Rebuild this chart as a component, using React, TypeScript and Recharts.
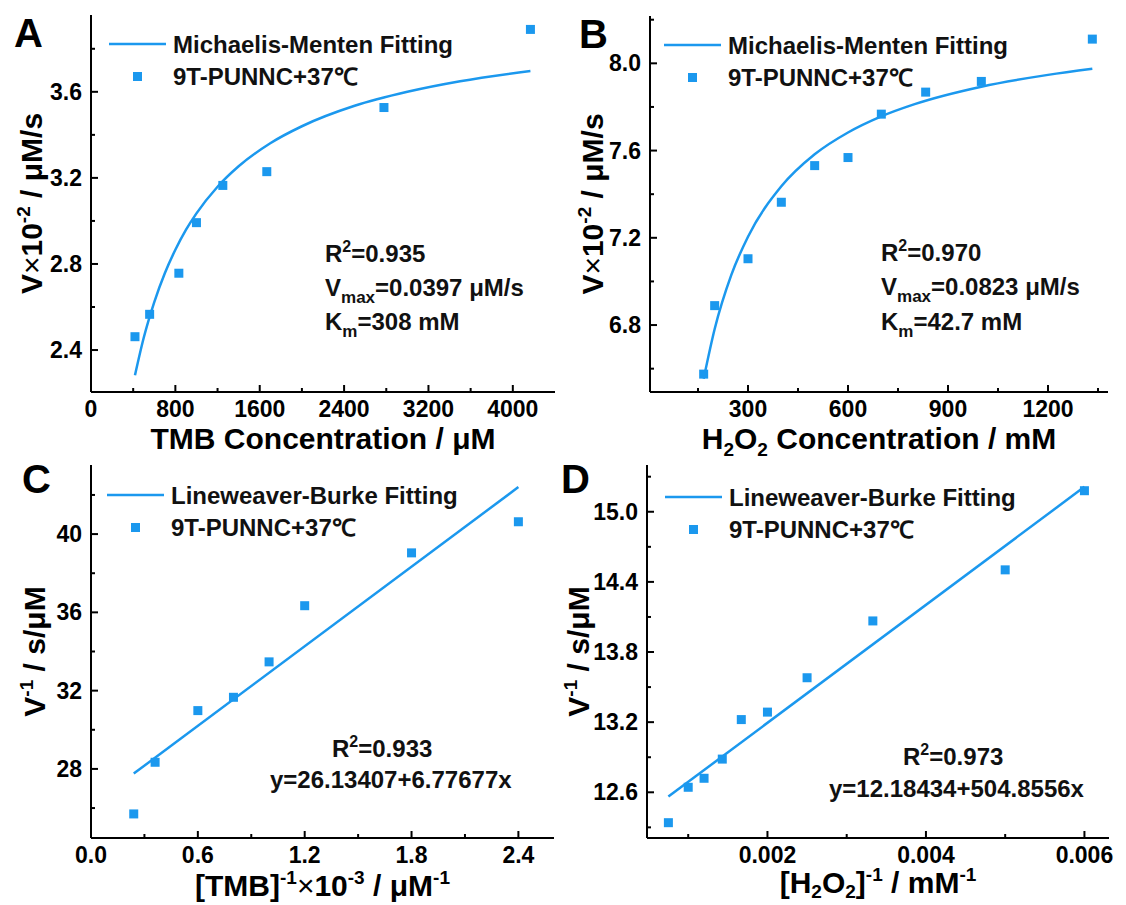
import React from 'react';
import { ComposedChart, Line, Scatter, XAxis, YAxis, Legend } from 'recharts';

const BLUE = '#1b98ee';
const FONT = '"Liberation Sans", Arial, Helvetica, sans-serif';

// ---------- Panel A : TMB Michaelis-Menten ----------
const tmbConc = [417, 556, 833, 1000, 1250, 1667, 2778, 4167];
const tmbRate = [2.462, 2.566, 2.757, 2.992, 3.165, 3.229, 3.527, 3.89];
const tmbFitConc = [417, 500, 600, 700, 800, 900, 1000, 1200, 1400, 1700, 2000, 2500, 3000, 3500, 4167];
const tmbFitRate = [2.283, 2.457, 2.623, 2.757, 2.866, 2.958, 3.035, 3.159, 3.254, 3.361, 3.44, 3.535, 3.6, 3.649, 3.697];
const aXMajor = [0, 800, 1600, 2400, 3200, 4000];
const aXMinor = [400, 1200, 2000, 2800, 3600];
const aYMajor = [2.4, 2.8, 3.2, 3.6];
const aYMinor = [2.6, 3.0, 3.4, 3.8];

// ---------- Panel B : H2O2 Michaelis-Menten ----------
const h2o2Conc = [167, 200, 300, 400, 500, 600, 700, 833, 1000, 1333];
const h2o2Rate = [6.575, 6.889, 7.104, 7.363, 7.531, 7.568, 7.767, 7.868, 7.917, 8.111];
const h2o2FitConc = [167, 200, 250, 300, 400, 500, 600, 700, 800, 1000, 1200, 1333];
const h2o2FitRate = [6.554, 6.782, 7.03, 7.205, 7.436, 7.583, 7.683, 7.757, 7.813, 7.893, 7.947, 7.975];
const bXMajor = [300, 600, 900, 1200];
const bXMinor = [150, 450, 750, 1050, 1350];
const bYMajor = [6.8, 7.2, 7.6, 8.0];
const bYMinor = [6.6, 7.0, 7.4, 7.8, 8.2];

// ---------- Panel C : TMB Lineweaver-Burk ----------
const invTmb = [0.24, 0.36, 0.6, 0.8, 1.0, 1.2, 1.8, 2.4];
const invTmbRate = [25.7, 28.34, 30.98, 31.66, 33.47, 36.34, 39.04, 40.63];
const invTmbFitX = [0.24, 2.4];
const invTmbFitY = [27.76, 42.4];
const cXMajor = [0, 0.6, 1.2, 1.8, 2.4];
const cXMinor = [0.3, 0.9, 1.5, 2.1];
const cYMajor = [28, 32, 36, 40];
const cYMinor = [26, 30, 34, 38, 42];

// ---------- Panel D : H2O2 Lineweaver-Burk ----------
const invH2o2 = [0.00075, 0.001, 0.0012, 0.00143, 0.00167, 0.002, 0.0025, 0.00333, 0.005, 0.006];
const invH2o2Rate = [12.34, 12.643, 12.72, 12.884, 13.222, 13.286, 13.58, 14.066, 14.503, 15.18];
const invH2o2FitX = [0.00075, 0.006];
const invH2o2FitY = [12.563, 15.213];
const dXMajor = [0.002, 0.004, 0.006];
const dXMinor = [0.001, 0.003, 0.005];
const dYMajor = [12.6, 13.2, 13.8, 14.4, 15.0];
const dYMinor = [12.3, 12.9, 13.5, 14.1, 14.7, 15.3];

const MM_NAME = 'Michaelis-Menten Fitting';
const LB_NAME = 'Lineweaver-Burke Fitting';
const PT_NAME = '9T-PUNNC+37\u2103';

const zip = (xs: number[], ys: number[]) => xs.map((x, i) => ({ x, y: ys[i] }));

const isIn = (arr: number[], v: number) => arr.some((m) => Math.abs(m - v) < 1e-9);

const makeXTick = (majors: number[], dec: number) => (p: any) => {
  const v = p.payload.value;
  const major = isIn(majors, v);
  return (
    <g>
      <line x1={p.x} x2={p.x} y1={p.y} y2={p.y - (major ? 7 : 4)} stroke="#000" strokeWidth={2} />
      {major && (
        <text x={p.x} y={p.y + 25} textAnchor="middle" fontSize={23} fontWeight="bold" fill="#000" fontFamily={FONT}>
          {v.toFixed(dec)}
        </text>
      )}
    </g>
  );
};

const makeYTick = (majors: number[], dec: number) => (p: any) => {
  const v = p.payload.value;
  const major = isIn(majors, v);
  return (
    <g>
      <line x1={p.x} x2={p.x + (major ? 7 : 4)} y1={p.y} y2={p.y} stroke="#000" strokeWidth={2} />
      {major && (
        <text x={p.x - 9} y={p.y + 8} textAnchor="end" fontSize={23} fontWeight="bold" fill="#000" fontFamily={FONT}>
          {v.toFixed(dec)}
        </text>
      )}
    </g>
  );
};

const squareShape = (p: any) => <rect x={p.cx - 4.5} y={p.cy - 4.5} width={9} height={9} fill={BLUE} />;

const XTitle = (p: any) => (
  <text x={p.tx} y={p.ty} textAnchor="middle" fontSize={30} fontWeight="bold" fill="#000" fontFamily={FONT}>
    {p.children2}
  </text>
);
const YTitle = (p: any) => (
  <text
    x={p.tx}
    y={p.ty}
    transform={`rotate(-90, ${p.tx}, ${p.ty})`}
    textAnchor="middle"
    fontSize={30}
    fontWeight="bold"
    fill="#000"
    fontFamily={FONT}
  >
    {p.children2}
  </text>
);

const LegendBox = (p: any) => (
  <svg width={380} height={72} style={{ overflow: 'visible' }}>
    <line x1={0} x2={57} y1={20} y2={20} stroke={BLUE} strokeWidth={2.5} />
    <text x={64} y={29} fontSize={24} fontWeight="bold" fill="#111" fontFamily={FONT}>
      {p.fitName}
    </text>
    <rect x={28.5 - 4.5} y={52.5 - 4.5} width={9} height={9} fill={BLUE} />
    <text x={64} y={61} fontSize={24} fontWeight="bold" fill="#111" fontFamily={FONT}>
      {p.ptName}
    </text>
  </svg>
);

type PanelCfg = {
  left: number;
  top: number;
  width: number;
  height: number;
  plot: { l: number; t: number; r: number; b: number };
  xDomain: [number, number];
  yDomain: [number, number];
  xMajor: number[];
  xMinor: number[];
  yMajor: number[];
  yMinor: number[];
  xDec: number;
  yDec: number;
  fit: { x: number; y: number }[];
  pts: { x: number; y: number }[];
  fitType: 'monotone' | 'linear';
  fitName: string;
  xTitle: React.ReactNode;
  yTitle: React.ReactNode;
  xTitleBase: number;
  yTitleBase: number;
  legend: { x: number; y: number };
};

const Panel = ({ c }: { c: PanelCfg }) => {
  const YW = 60;
  const XH = 40;
  const margin = {
    left: c.plot.l - c.left - YW,
    top: c.plot.t - c.top,
    right: c.left + c.width - c.plot.r,
    bottom: c.top + c.height - c.plot.b - XH,
  };
  const xTicks = [...c.xMajor, ...c.xMinor].sort((a, b) => a - b);
  const yTicks = [...c.yMajor, ...c.yMinor].sort((a, b) => a - b);
  const xtx = (c.plot.l + c.plot.r) / 2 - c.left;
  const xty = c.xTitleBase - c.top;
  const ytx = c.yTitleBase - c.left;
  const yty = (c.plot.t + c.plot.b) / 2 - c.top;
  const axisLine = { stroke: '#000', strokeWidth: 2 };
  return (
    <div style={{ position: 'absolute', left: c.left, top: c.top, width: c.width, height: c.height }}>
      <ComposedChart width={c.width} height={c.height} margin={margin} style={{ overflow: 'visible' }}>
        <XAxis
          xAxisId={0}
          type="number"
          dataKey="x"
          domain={c.xDomain}
          allowDataOverflow
          ticks={xTicks}
          interval={0}
          tickSize={0}
          tickMargin={0}
          tickLine={false}
          axisLine={axisLine}
          height={XH}
          tick={makeXTick(c.xMajor, c.xDec)}
          label={<XTitle tx={xtx} ty={xty} children2={c.xTitle} />}
        />
        <XAxis
          xAxisId="top"
          orientation="top"
          type="number"
          domain={c.xDomain}
          allowDataOverflow
          tick={false}
          tickLine={false}
          axisLine={axisLine}
          height={0}
        />
        <YAxis
          yAxisId={0}
          type="number"
          dataKey="y"
          domain={c.yDomain}
          allowDataOverflow
          ticks={yTicks}
          interval={0}
          tickSize={0}
          tickMargin={0}
          tickLine={false}
          axisLine={axisLine}
          width={YW}
          tick={makeYTick(c.yMajor, c.yDec)}
          label={<YTitle tx={ytx} ty={yty} children2={c.yTitle} />}
        />
        <YAxis
          yAxisId="right"
          orientation="right"
          type="number"
          domain={c.yDomain}
          allowDataOverflow
          tick={false}
          tickLine={false}
          axisLine={axisLine}
          width={0}
        />
        <Line
          data={c.fit}
          dataKey="y"
          type={c.fitType}
          stroke={BLUE}
          strokeWidth={2.5}
          dot={false}
          activeDot={false}
          name={c.fitName}
          isAnimationActive={false}
        />
        <Scatter data={c.pts} dataKey="y" fill={BLUE} shape={squareShape} name={PT_NAME} isAnimationActive={false} />
        <Legend
          layout="horizontal"
          verticalAlign="middle"
          align="center"
          wrapperStyle={{ left: c.legend.x - c.left, top: c.legend.y - 20 - c.top, width: 380, height: 72 }}
          content={() => <LegendBox fitName={c.fitName} ptName={PT_NAME} />}
        />
      </ComposedChart>
    </div>
  );
};

const SUP = { dy: -12, fontSize: 19 };
const SUB = { dy: 7, fontSize: 19 };

const vTitle = (
  <>
    <tspan>V</tspan>
    <tspan fontWeight="normal">{'\u00D7'}</tspan>
    <tspan>10</tspan>
    <tspan {...SUP}>-2</tspan>
    <tspan dy={12}>{' / \u03BCM/s'}</tspan>
  </>
);
const invVTitle = (
  <>
    <tspan>V</tspan>
    <tspan {...SUP}>-1</tspan>
    <tspan dy={12}>{' / s/\u03BCM'}</tspan>
  </>
);

const panels: PanelCfg[] = [
  {
    left: 0,
    top: 0,
    width: 563,
    height: 460,
    plot: { l: 91, t: 15, r: 555, b: 392 },
    xDomain: [0, 4400],
    yDomain: [2.205, 3.957],
    xMajor: aXMajor,
    xMinor: aXMinor,
    yMajor: aYMajor,
    yMinor: aYMinor,
    xDec: 0,
    yDec: 1,
    fit: zip(tmbFitConc, tmbFitRate),
    pts: zip(tmbConc, tmbRate),
    fitType: 'monotone',
    fitName: MM_NAME,
    xTitle: <tspan>{'TMB Concentration / \u03BCM'}</tspan>,
    yTitle: vTitle,
    xTitleBase: 449,
    yTitleBase: 42,
    legend: { x: 109, y: 44 },
  },
  {
    left: 540,
    top: 0,
    width: 586,
    height: 460,
    plot: { l: 650, t: 16, r: 1108, b: 392 },
    xDomain: [6, 1380],
    yDomain: [6.493, 8.217],
    xMajor: bXMajor,
    xMinor: bXMinor,
    yMajor: bYMajor,
    yMinor: bYMinor,
    xDec: 0,
    yDec: 1,
    fit: zip(h2o2FitConc, h2o2FitRate),
    pts: zip(h2o2Conc, h2o2Rate),
    fitType: 'monotone',
    fitName: MM_NAME,
    xTitle: (
      <>
        <tspan>H</tspan>
        <tspan {...SUB}>2</tspan>
        <tspan dy={-7}>O</tspan>
        <tspan {...SUB}>2</tspan>
        <tspan dy={-7}>{' Concentration / mM'}</tspan>
      </>
    ),
    yTitle: vTitle,
    xTitleBase: 449,
    yTitleBase: 603,
    legend: { x: 664, y: 45 },
  },
  {
    left: 0,
    top: 460,
    width: 563,
    height: 445,
    plot: { l: 91, t: 465, r: 554, b: 838 },
    xDomain: [0, 2.6],
    yDomain: [24.47, 43.53],
    xMajor: cXMajor,
    xMinor: cXMinor,
    yMajor: cYMajor,
    yMinor: cYMinor,
    xDec: 1,
    yDec: 0,
    fit: zip(invTmbFitX, invTmbFitY),
    pts: zip(invTmb, invTmbRate),
    fitType: 'linear',
    fitName: LB_NAME,
    xTitle: (
      <>
        <tspan>[TMB]</tspan>
        <tspan {...SUP}>-1</tspan>
        <tspan dy={12} fontWeight="normal">{'\u00D7'}</tspan>
        <tspan>10</tspan>
        <tspan {...SUP}>-3</tspan>
        <tspan dy={12}>{' / \u03BCM'}</tspan>
        <tspan {...SUP}>-1</tspan>
      </>
    ),
    yTitle: invVTitle,
    xTitleBase: 896,
    yTitleBase: 45,
    legend: { x: 107, y: 495 },
  },
  {
    left: 540,
    top: 460,
    width: 586,
    height: 445,
    plot: { l: 647, t: 465, r: 1109, b: 838 },
    xDomain: [0.00048, 0.00631],
    yDomain: [12.209, 15.4],
    xMajor: dXMajor,
    xMinor: dXMinor,
    yMajor: dYMajor,
    yMinor: dYMinor,
    xDec: 3,
    yDec: 1,
    fit: zip(invH2o2FitX, invH2o2FitY),
    pts: zip(invH2o2, invH2o2Rate),
    fitType: 'linear',
    fitName: LB_NAME,
    xTitle: (
      <>
        <tspan>[H</tspan>
        <tspan {...SUB} dy={5}>2</tspan>
        <tspan dy={-5}>O</tspan>
        <tspan {...SUB} dy={5}>2</tspan>
        <tspan dy={-5}>]</tspan>
        <tspan {...SUP}>-1</tspan>
        <tspan dy={12}>{' / mM'}</tspan>
        <tspan {...SUP}>-1</tspan>
      </>
    ),
    yTitle: invVTitle,
    xTitleBase: 893,
    yTitleBase: 589,
    legend: { x: 665, y: 497 },
  },
];

const txt = { fontFamily: FONT, fontWeight: 'bold' as const, fill: '#111' };

export default function App() {
  return (
    <div
      style={{
        position: 'absolute',
        left: 0,
        top: 0,
        width: 1126,
        height: 905,
        background: '#fff',
        fontFamily: FONT,
      }}
    >
      {panels.map((c, i) => (
        <Panel key={i} c={c} />
      ))}
      <svg width={1126} height={905} style={{ position: 'absolute', left: 0, top: 0, pointerEvents: 'none' }}>
        {/* panel letters */}
        <text x={14} y={47} fontSize={40} {...txt} fill="#000">A</text>
        <text x={579} y={48} fontSize={40} {...txt} fill="#000">B</text>
        <text x={22} y={493} fontSize={40} {...txt} fill="#000">C</text>
        <text x={561} y={493} fontSize={40} {...txt} fill="#000">D</text>

        {/* Panel A annotation */}
        <text x={325} y={262} fontSize={24} {...txt}>
          R<tspan dy={-10} fontSize={16}>2</tspan>
          <tspan dy={10}>=0.935</tspan>
        </text>
        <text x={325} y={296} fontSize={24} {...txt}>
          V<tspan dy={7} fontSize={17}>max</tspan>
          <tspan dy={-7}>=0.0397 {'\u03BC'}M/s</tspan>
        </text>
        <text x={325} y={330} fontSize={24} {...txt}>
          K<tspan dy={7} fontSize={17}>m</tspan>
          <tspan dy={-7}>=308 mM</tspan>
        </text>

        {/* Panel B annotation */}
        <text x={881} y={261} fontSize={24} {...txt}>
          R<tspan dy={-10} fontSize={16}>2</tspan>
          <tspan dy={10}>=0.970</tspan>
        </text>
        <text x={881} y={295} fontSize={24} {...txt}>
          V<tspan dy={7} fontSize={17}>max</tspan>
          <tspan dy={-7}>=0.0823 {'\u03BC'}M/s</tspan>
        </text>
        <text x={881} y={330} fontSize={24} {...txt}>
          K<tspan dy={7} fontSize={17}>m</tspan>
          <tspan dy={-7}>=42.7 mM</tspan>
        </text>

        {/* Panel C annotation */}
        <text x={332} y={757} fontSize={24} {...txt}>
          R<tspan dy={-10} fontSize={16}>2</tspan>
          <tspan dy={10}>=0.933</tspan>
        </text>
        <text x={270} y={788} fontSize={24} {...txt}>
          y=26.13407+6.77677x
        </text>

        {/* Panel D annotation */}
        <text x={903} y={765} fontSize={24} {...txt}>
          R<tspan dy={-10} fontSize={16}>2</tspan>
          <tspan dy={10}>=0.973</tspan>
        </text>
        <text x={829} y={797} fontSize={24} {...txt}>
          y=12.18434+504.8556x
        </text>
      </svg>
    </div>
  );
}
